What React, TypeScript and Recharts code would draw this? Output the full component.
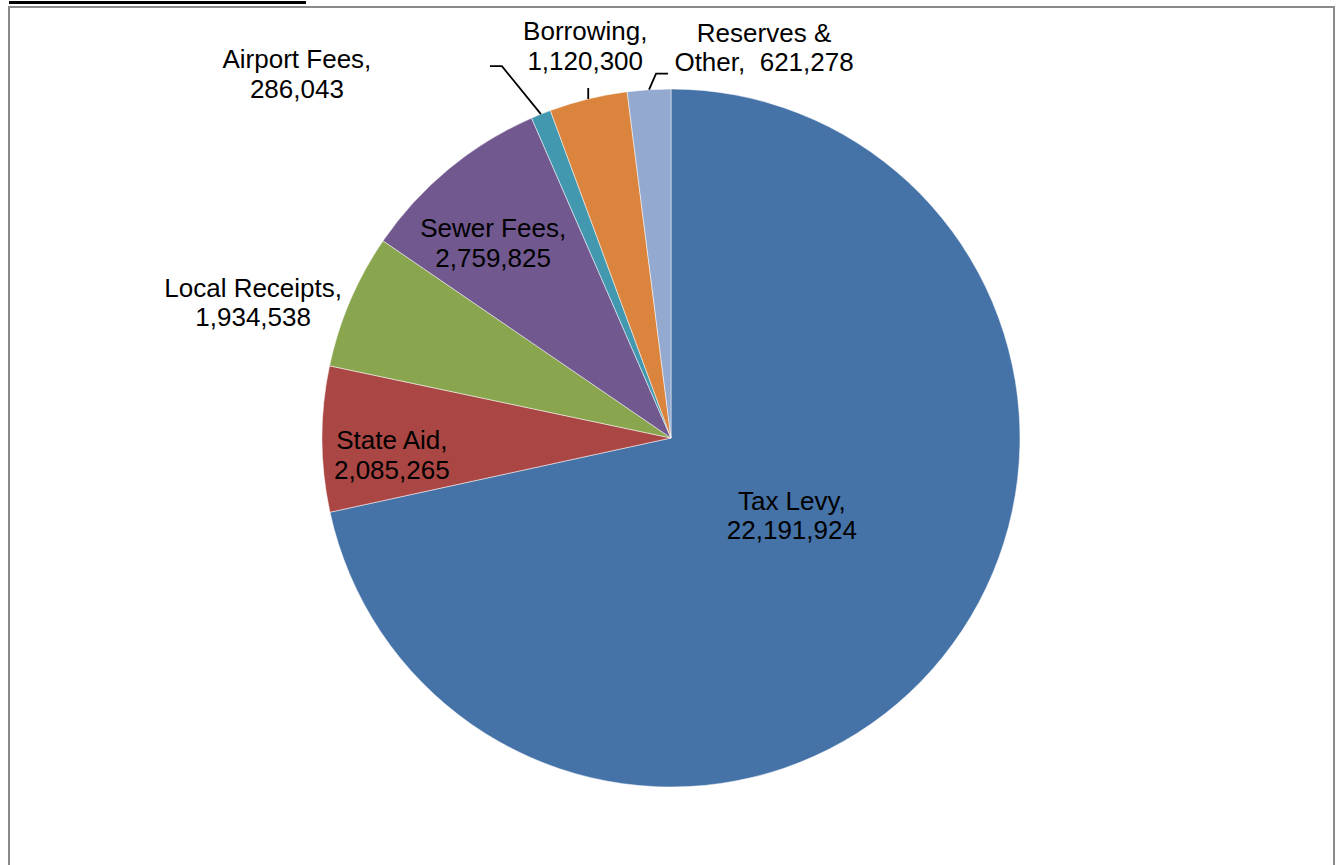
import React from "react";
import { PieChart, Pie, Cell } from "recharts";

// revenue sources, clockwise from 12 o'clock
const categories = ["Tax Levy", "State Aid", "Local Receipts", "Sewer Fees", "Airport Fees", "Borrowing", "Reserves & Other"];
const revenues = [22191924, 2085265, 1934538, 2759825, 286043, 1120300, 621278];
const labelHeads = ["Tax Levy,", "State Aid,", "Local Receipts,", "Sewer Fees,", "Airport Fees,", "Borrowing,", "Reserves &"];
const labelTailPrefix = ["", "", "", "", "", "", "Other,  "];
const colors = ["#4572A7", "#AA4643", "#89A54E", "#71588F", "#4198AF", "#DB843D", "#93A9CF"];

// label placement: radius factor along mid angle + nudge, optional leader elbow offsets (from edge point)
const placements: { f: number; dx: number; dy: number; leader?: number[][] }[] = [
  { f: 0.408, dx: 10, dy: -12 },
  { f: 0.8, dx: 0, dy: 16 },
  { f: 1, dx: -97, dy: 2 },
  { f: 0.755, dx: -10, dy: 8 },
  { f: 1, dx: -244, dy: -40, leader: [[-39, -48], [-51, -48]] },
  { f: 1, dx: -3, dy: -53, leader: [[0, -11]] },
  { f: 1, dx: 115, dy: -42, leader: [[7, -16], [19, -16]] },
];

const data = categories.map((name, i) => ({ name, value: revenues[i] }));
const RADIAN = Math.PI / 180;
const fmt = (v: number) => v.toLocaleString("en-US");

const renderLabel = (props: any) => {
  const { cx, cy, midAngle, outerRadius, index } = props;
  const p = placements[index];
  const cos = Math.cos(-midAngle * RADIAN);
  const sin = Math.sin(-midAngle * RADIAN);
  const x = cx + outerRadius * p.f * cos + p.dx;
  const y = cy + outerRadius * p.f * sin + p.dy;
  const ex = cx + outerRadius * cos;
  const ey = cy + outerRadius * sin;
  const lines = [labelHeads[index], labelTailPrefix[index] + fmt(revenues[index])];
  return (
    <g key={`lbl-${index}`}>
      {p.leader && (
        <polyline
          points={[[0, 0], ...p.leader].map(([a, b]) => `${ex + a},${ey + b}`).join(" ")}
          fill="none"
          stroke="#000"
          strokeWidth={1.8}
        />
      )}
      {lines.map((t, i) => (
        <text
          key={i}
          x={x}
          y={y + (i - 0.5) * 29.5}
          textAnchor="middle"
          dominantBaseline="central"
          fill="#000"
          style={{ fontFamily: "'Liberation Sans', Arial, sans-serif", fontSize: 26, whiteSpace: "pre" }}
        >
          {t}
        </text>
      ))}
    </g>
  );
};

export default function App() {
  return (
    <div style={{ position: "absolute", left: 0, top: 0, width: 1340, height: 865, overflow: "hidden", background: "#fff" }}>
      <div style={{ position: "absolute", left: 9, top: 1, width: 297, height: 3, background: "#000" }} />
      <div
        style={{
          position: "absolute",
          left: 8,
          top: 6,
          width: 1323,
          height: 900,
          borderLeft: "2px solid #8a8a8a",
          borderTop: "2px solid #8a8a8a",
          borderRight: "2px solid #8a8a8a",
        }}
      />
      <div style={{ position: "absolute", left: 0, top: 0 }}>
        <PieChart width={1340} height={865} margin={{ top: 0, right: 0, bottom: 0, left: 0 }}>
          <Pie
            data={data}
            dataKey="value"
            nameKey="name"
            cx={671}
            cy={438}
            outerRadius={349}
            startAngle={90}
            endAngle={-270}
            stroke="#ffffff"
            strokeWidth={0.5}
            label={renderLabel}
            labelLine={false}
            isAnimationActive={false}
          >
            {data.map((d, i) => (
              <Cell key={d.name} fill={colors[i]} />
            ))}
          </Pie>
        </PieChart>
      </div>
    </div>
  );
}
